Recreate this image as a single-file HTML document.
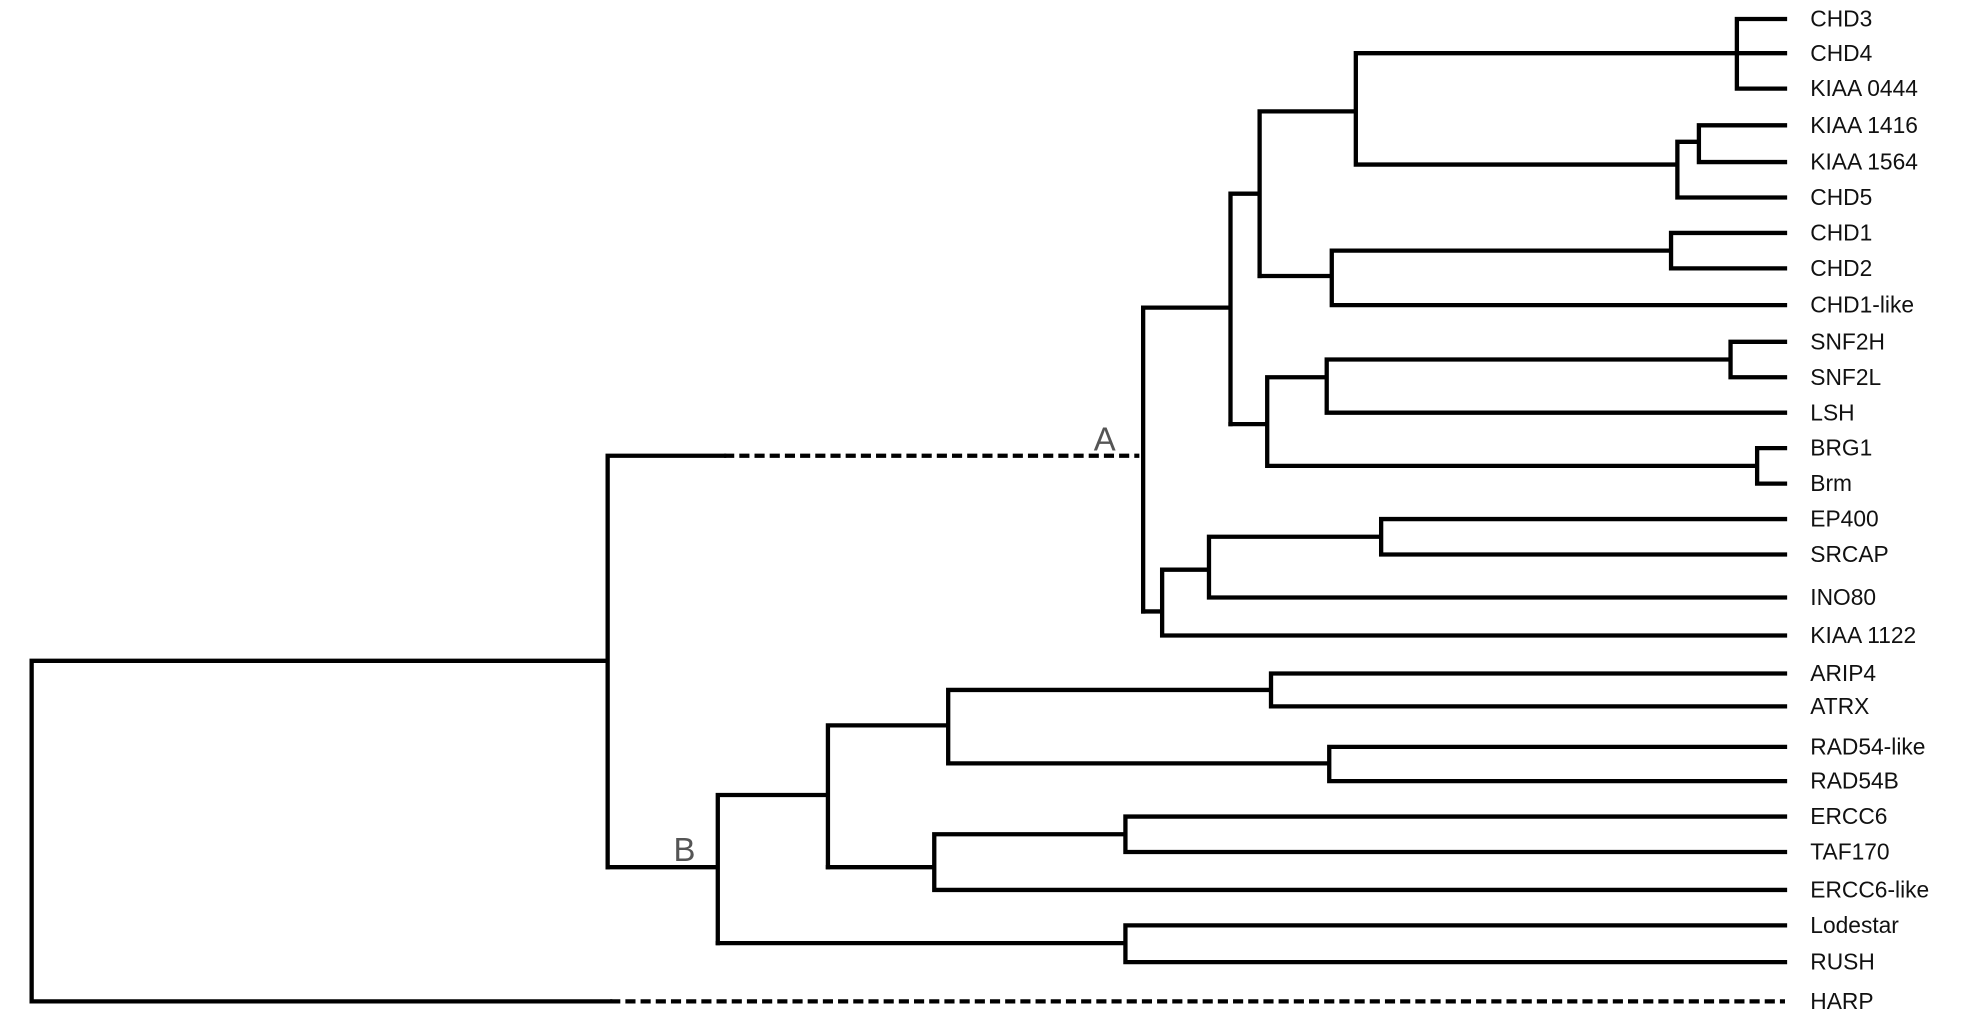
<!DOCTYPE html>
<html><head><meta charset="utf-8"><style>
html,body{margin:0;padding:0;background:#fff;width:1985px;height:1022px;overflow:hidden}
svg{display:block}
text{font-family:"Liberation Sans",Arial,sans-serif;font-size:18px;fill:#111}
</style></head><body>
<svg width="1985" height="1022" viewBox="0 0 1568 807.3" preserveAspectRatio="none" xmlns="http://www.w3.org/2000/svg">
<g stroke="#000" stroke-width="3.4" fill="none" stroke-linecap="square">
<path d="M25 522V791M25 522H480M480 360V685M480 360H572"/>
<path d="M25 791H482"/>
<path d="M572 360H900" stroke-dasharray="8,4" stroke-linecap="butt"/>
<path d="M482 791H1410" stroke-dasharray="8,4" stroke-linecap="butt"/>
<path d="M903 243V483M903 243H972M972 153V335M972 153H995M995 88V218M995 88H1071M1071 42V130M1071 42H1372M1372 15V70M1372 15H1410M1372 42H1410M1372 70H1410M1071 130H1325M1325 112V156M1325 156H1410M1325 112H1342M1342 99V128M1342 99H1410M1342 128H1410"/>
<path d="M995 218H1052M1052 198V241M1052 198H1320M1320 184V212M1320 184H1410M1320 212H1410M1052 241H1410"/>
<path d="M972 335H1001M1001 298V368M1001 298H1048M1048 284V326M1048 284H1367M1367 270V298M1367 270H1410M1367 298H1410M1048 326H1410M1001 368H1388M1388 354V382M1388 354H1410M1388 382H1410"/>
<path d="M903 483H918M918 450V502M918 450H955M955 424V472M955 424H1091M1091 410V438M1091 410H1410M1091 438H1410M955 472H1410M918 502H1410"/>
<path d="M480 685H567M567 628V745M567 628H654M654 573V685M654 573H749M749 545V603M749 545H1004M1004 532V558M1004 532H1410M1004 558H1410M749 603H1050M1050 590V617M1050 590H1410M1050 617H1410"/>
<path d="M654 685H738M738 659V703M738 659H889M889 645V673M889 645H1410M889 673H1410M738 703H1410M567 745H889M889 731V760M889 731H1410M889 760H1410"/>
</g>
<text x="864" y="356" style="font-size:26px;fill:#555">A</text>
<text x="532" y="680" style="font-size:26px;fill:#555">B</text>
<g>
<text x="1430" y="21">CHD3</text>
<text x="1430" y="48">CHD4</text>
<text x="1430" y="76">KIAA 0444</text>
<text x="1430" y="105">KIAA 1416</text>
<text x="1430" y="134">KIAA 1564</text>
<text x="1430" y="162">CHD5</text>
<text x="1430" y="190">CHD1</text>
<text x="1430" y="218">CHD2</text>
<text x="1430" y="247">CHD1-like</text>
<text x="1430" y="276">SNF2H</text>
<text x="1430" y="304">SNF2L</text>
<text x="1430" y="332">LSH</text>
<text x="1430" y="360">BRG1</text>
<text x="1430" y="388">Brm</text>
<text x="1430" y="416">EP400</text>
<text x="1430" y="444">SRCAP</text>
<text x="1430" y="478">INO80</text>
<text x="1430" y="508">KIAA 1122</text>
<text x="1430" y="538">ARIP4</text>
<text x="1430" y="564">ATRX</text>
<text x="1430" y="596">RAD54-like</text>
<text x="1430" y="623">RAD54B</text>
<text x="1430" y="651">ERCC6</text>
<text x="1430" y="679">TAF170</text>
<text x="1430" y="709">ERCC6-like</text>
<text x="1430" y="737">Lodestar</text>
<text x="1430" y="766">RUSH</text>
<text x="1430" y="797">HARP</text>
</g>
</svg>
</body></html>
